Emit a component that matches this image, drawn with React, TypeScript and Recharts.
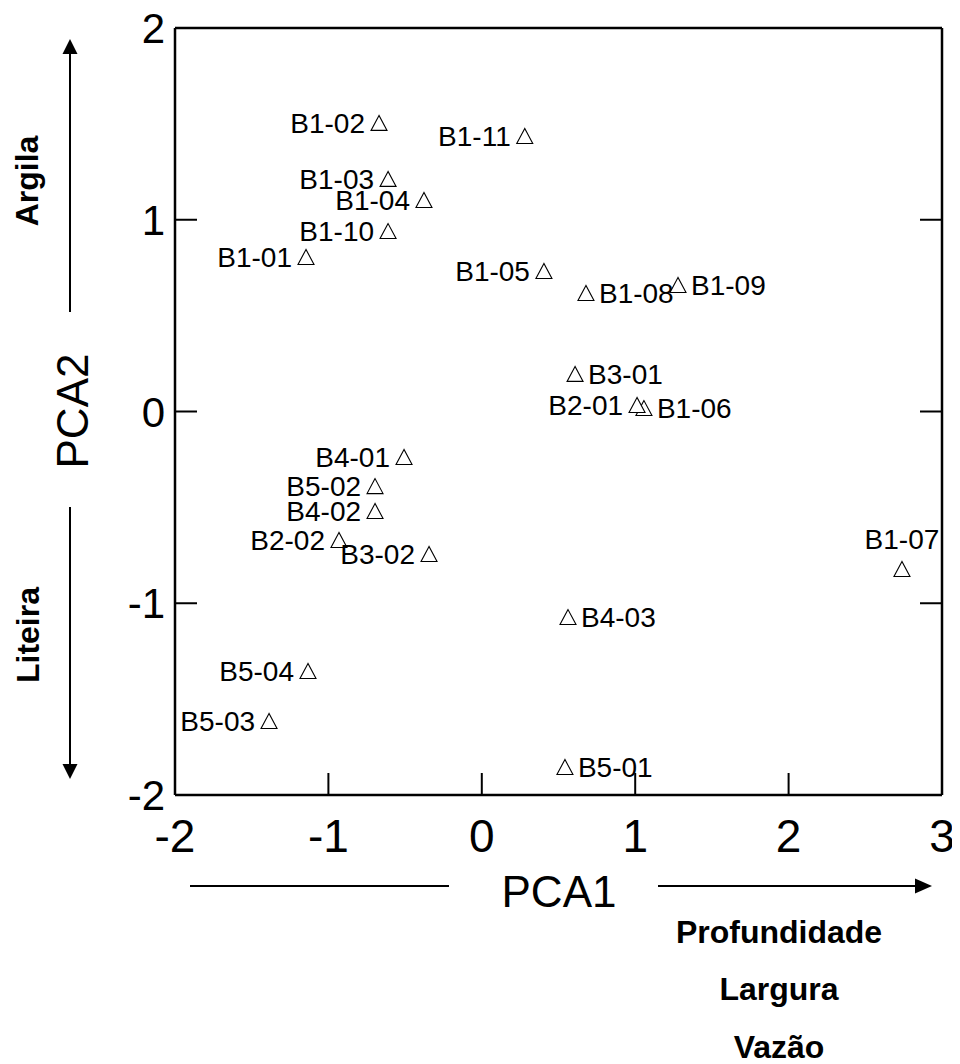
import React from 'react';
import { ScatterChart, Scatter, XAxis, YAxis } from 'recharts';

const names = ['B1-01','B1-02','B1-03','B1-04','B1-05','B1-06','B1-07','B1-08','B1-09','B1-10','B1-11','B2-01','B2-02','B3-01','B3-02','B4-01','B4-02','B4-03','B5-01','B5-02','B5-03','B5-04'];
const pca1 = [-1.146,-0.67,-0.611,-0.377,0.405,1.057,2.739,0.679,1.279,-0.611,0.28,1.012,-0.931,0.608,-0.344,-0.507,-0.696,0.562,0.542,-0.696,-1.387,-1.133];
const pca2 = [0.806,1.505,1.213,1.103,0.733,0.018,-0.821,0.618,0.66,0.941,1.437,0.034,-0.67,0.196,-0.743,-0.237,-0.519,-1.072,-1.854,-0.389,-1.614,-1.353];
const labelSide = ['left','left','left','left','left','right','top','right','right','left','left','left','left','right','left','left','left','right','right','left','left','left'];

const xTicks = [-2, -1, 0, 1, 2, 3];
const yTicks = [-2, -1, 0, 1, 2];

const data = names.map((n, i) => ({ name: n, x: pca1[i], y: pca2[i], side: labelSide[i] }));

const FONT = "'Liberation Sans', Arial, Helvetica, sans-serif";
const TICK_LEN = 22;

const TriangleShape = (props: any) => {
  const { cx, cy, payload } = props;
  if (cx == null || cy == null) return null;
  const pts = `${cx},${cy - 7.5} ${cx - 8},${cy + 7.5} ${cx + 8},${cy + 7.5}`;
  let tx = cx - 14;
  let ty = cy + 10;
  let anchor: 'end' | 'start' | 'middle' = 'end';
  if (payload.side === 'right') { tx = cx + 13; anchor = 'start'; }
  if (payload.side === 'top') { tx = cx; ty = cy - 20; anchor = 'middle'; }
  return (
    <g>
      <polygon points={pts} fill="#fff" stroke="#000" strokeWidth={1.1} />
      <text x={tx} y={ty} textAnchor={anchor} fontSize={28} fontFamily={FONT} fill="#000">{payload.name}</text>
    </g>
  );
};

const BottomTick = (props: any) => {
  const { x, y, payload } = props;
  return (
    <g>
      <line x1={x} y1={y} x2={x} y2={y - TICK_LEN} stroke="#000" strokeWidth={2} />
      <text x={x} y={y + 57} textAnchor="middle" fontSize={46} fontFamily={FONT} fill="#000">{payload.value}</text>
    </g>
  );
};

const TopTick = (props: any) => {
  const { x, y } = props;
  return <line x1={x} y1={y} x2={x} y2={y + TICK_LEN} stroke="#000" strokeWidth={2} />;
};

const LeftTick = (props: any) => {
  const { x, y, payload } = props;
  return (
    <g>
      <line x1={x} y1={y} x2={x + TICK_LEN} y2={y} stroke="#000" strokeWidth={2} />
      <text x={x - 10} y={y + 15} textAnchor="end" fontSize={42} fontFamily={FONT} fill="#000">{payload.value}</text>
    </g>
  );
};

const RightTick = (props: any) => {
  const { x, y } = props;
  return <line x1={x} y1={y} x2={x - TICK_LEN} y2={y} stroke="#000" strokeWidth={2} />;
};

const axisLine = { stroke: '#000', strokeWidth: 2.5 };

export default function App() {
  return (
    <div style={{ position: 'relative', width: 960, height: 1064, marginTop: -8, marginLeft: -8 }}>
      <ScatterChart width={960} height={1064} margin={{ top: 27, right: 17, left: 0, bottom: 209 }}>
        <XAxis type="number" dataKey="x" domain={[-2, 3]} ticks={xTicks} interval={0} allowDataOverflow
          height={60} tickSize={0} tickMargin={0} tick={<BottomTick />} axisLine={axisLine} tickLine={false} />
        <XAxis xAxisId="top" orientation="top" type="number" domain={[-2, 3]} ticks={xTicks} interval={0} allowDataOverflow
          height={1} tickSize={0} tickMargin={0} tick={<TopTick />} axisLine={axisLine} tickLine={false} />
        <YAxis type="number" dataKey="y" domain={[-2, 2]} ticks={yTicks} interval={0} allowDataOverflow
          width={175} tickSize={0} tickMargin={0} tick={<LeftTick />} axisLine={axisLine} tickLine={false} />
        <YAxis yAxisId="right" orientation="right" type="number" domain={[-2, 2]} ticks={yTicks} interval={0} allowDataOverflow
          width={1} tickSize={0} tickMargin={0} tick={<RightTick />} axisLine={axisLine} tickLine={false} />
        <Scatter data={data} shape={TriangleShape} isAnimationActive={false} />
      </ScatterChart>
      <svg width={960} height={1064} style={{ position: 'absolute', left: 0, top: 0, pointerEvents: 'none' }}>
        <text x={559} y={907} textAnchor="middle" fontSize={44} fontFamily={FONT} fill="#000">PCA1</text>
        <line x1={190} y1={886} x2={449} y2={886} stroke="#000" strokeWidth={2} />
        <line x1={658} y1={886} x2={918} y2={886} stroke="#000" strokeWidth={2} />
        <polygon points="932,886 915,878.5 915,893.5" fill="#000" />
        <text x={779} y={943} textAnchor="middle" fontSize={32} fontWeight="bold" fontFamily={FONT} fill="#000">Profundidade</text>
        <text x={779} y={1000} textAnchor="middle" fontSize={32} fontWeight="bold" fontFamily={FONT} fill="#000">Largura</text>
        <text x={779} y={1058} textAnchor="middle" fontSize={32} fontWeight="bold" fontFamily={FONT} fill="#000">Vazão</text>
        <text x={88} y={411} transform="rotate(-90 88 411)" textAnchor="middle" fontSize={44} fontFamily={FONT} fill="#000">PCA2</text>
        <line x1={70} y1={53} x2={70} y2={312} stroke="#000" strokeWidth={2} />
        <polygon points="70,39 62.5,54 77.5,54" fill="#000" />
        <line x1={70} y1={507} x2={70} y2={765} stroke="#000" strokeWidth={2} />
        <polygon points="70,779 62.5,764 77.5,764" fill="#000" />
        <text x={38} y={181} transform="rotate(-90 38 181)" textAnchor="middle" fontSize={32} fontWeight="bold" fontFamily={FONT} fill="#000">Argila</text>
        <text x={39} y={635} transform="rotate(-90 39 635)" textAnchor="middle" fontSize={32} fontWeight="bold" fontFamily={FONT} fill="#000">Liteira</text>
      </svg>
    </div>
  );
}
